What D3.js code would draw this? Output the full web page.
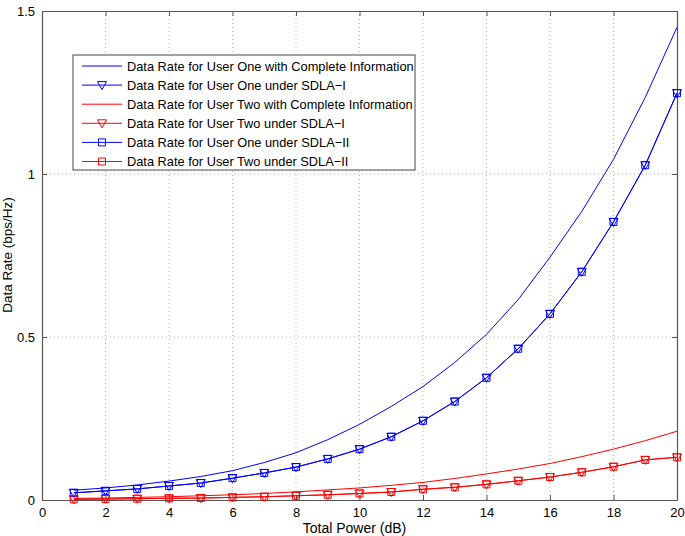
<!DOCTYPE html>
<html>
<head>
<meta charset="utf-8">
<script src="https://cdn.jsdelivr.net/npm/d3@7"></script>
<style>
  body { margin: 0; background: #fff; }
  text { font-family: "Liberation Sans", Arial, sans-serif; }
</style>
</head>
<body>
<div id="chart"></div>
<script>
// data
var power = [1,2,3,4,5,6,7,8,9,10,11,12,13,14,15,16,17,18,19,20];
var userOneComplete = [0.030,0.037,0.046,0.058,0.072,0.090,0.115,0.145,0.185,0.232,0.287,0.348,0.422,0.508,0.615,0.745,0.885,1.045,1.235,1.450];
var userOneSdla1 = [0.022,0.028,0.034,0.043,0.052,0.067,0.083,0.101,0.126,0.156,0.194,0.243,0.302,0.375,0.464,0.571,0.700,0.853,1.027,1.248];
var userTwoComplete = [0.005,0.006,0.008,0.010,0.013,0.016,0.020,0.025,0.031,0.037,0.045,0.054,0.066,0.080,0.095,0.112,0.133,0.156,0.182,0.211];
var userTwoSdla1 = [0.002,0.003,0.004,0.005,0.006,0.008,0.010,0.013,0.016,0.020,0.0245,0.033,0.039,0.048,0.059,0.0705,0.085,0.102,0.123,0.131];
var userOneSdla2 = [0.022,0.028,0.034,0.043,0.052,0.067,0.083,0.101,0.126,0.156,0.194,0.243,0.302,0.375,0.464,0.571,0.700,0.853,1.027,1.248];
var userTwoSdla2 = [0.002,0.003,0.004,0.005,0.006,0.008,0.010,0.013,0.016,0.020,0.0245,0.033,0.039,0.048,0.059,0.0705,0.085,0.102,0.123,0.131];
var xTicks = [0,2,4,6,8,10,12,14,16,18,20];
var yTicks = [0,0.5,1,1.5];

var series = [
  {name: "Data Rate for User One with Complete Information", values: userOneComplete, color: "#0000ff", marker: null},
  {name: "Data Rate for User One under SDLA\u2212I", values: userOneSdla1, color: "#0000ff", marker: "tri"},
  {name: "Data Rate for User Two with Complete Information", values: userTwoComplete, color: "#ff0000", marker: null},
  {name: "Data Rate for User Two under SDLA\u2212I", values: userTwoSdla1, color: "#ff0000", marker: "tri"},
  {name: "Data Rate for User One under SDLA\u2212II", values: userOneSdla2, color: "#0000ff", marker: "sq"},
  {name: "Data Rate for User Two under SDLA\u2212II", values: userTwoSdla2, color: "#ff0000", marker: "sq"}
];

var margin = {top: 11, right: 8, bottom: 36, left: 42};
var width = 685 - margin.left - margin.right;
var height = 536 - margin.top - margin.bottom;

var x = d3.scaleLinear().domain([0, 20]).range([0, width]);
var y = d3.scaleLinear().domain([0, 1.5]).range([height, 0]);

var svg = d3.select("#chart").append("svg")
    .attr("width", 685)
    .attr("height", 536)
  .append("g")
    .attr("transform", "translate(" + margin.left + "," + margin.top + ")");

// grid
svg.selectAll(".gx").data(xTicks.slice(1, -1)).enter().append("line")
  .attr("x1", function(d){ return x(d); }).attr("x2", function(d){ return x(d); })
  .attr("y1", 0).attr("y2", height)
  .attr("stroke", "#a0a0a0").attr("stroke-width", 0.8).attr("stroke-dasharray", "1,3");
svg.selectAll(".gy").data(yTicks.slice(1, -1)).enter().append("line")
  .attr("y1", function(d){ return y(d); }).attr("y2", function(d){ return y(d); })
  .attr("x1", 0).attr("x2", width)
  .attr("stroke", "#a0a0a0").attr("stroke-width", 0.8).attr("stroke-dasharray", "1,3");

// axes (inward ticks, box)
var xAxis = d3.axisBottom(x).tickValues(xTicks).tickSizeInner(-5).tickSizeOuter(0).tickPadding(7.5);
var yAxis = d3.axisLeft(y).tickValues(yTicks).tickSizeInner(-5).tickSizeOuter(0).tickPadding(7)
  .tickFormat(function(d){ return d3.format("")(d); });
var gx = svg.append("g").attr("transform", "translate(0," + height + ")").call(xAxis);
var gy = svg.append("g").call(yAxis);
var gxt = svg.append("g").call(d3.axisTop(x).tickValues(xTicks).tickSizeInner(-5).tickSizeOuter(0).tickFormat(""));
var gyr = svg.append("g").attr("transform", "translate(" + width + ",0)")
  .call(d3.axisRight(y).tickValues(yTicks).tickSizeInner(-5).tickSizeOuter(0).tickFormat(""));
[gx, gy, gxt, gyr].forEach(function(g){
  g.select(".domain").attr("stroke", "#555").attr("stroke-width", 1.2);
  g.selectAll(".tick line").attr("stroke", "#555");
  g.selectAll(".tick text").attr("fill", "#000").style("font-size", "13px")
    .style("font-family", "'Liberation Sans', Arial, sans-serif");
});

// lines
var line = d3.line()
  .x(function(d, i){ return x(power[i]); })
  .y(function(d){ return y(d); });

function markerPath(type) {
  if (type == "tri") return "M-4.5,-3.5L4.5,-3.5L0,4.5Z";
  return "M-3.5,-3.5L3.5,-3.5L3.5,3.5L-3.5,3.5Z";
}

series.forEach(function(s){
  svg.append("path")
    .datum(s.values)
    .attr("fill", "none")
    .attr("stroke", s.color)
    .attr("stroke-width", 1)
    .attr("d", line);
  if (s.marker) {
    svg.selectAll(null)
      .data(s.values)
      .enter()
      .append("path")
      .attr("d", markerPath(s.marker))
      .attr("transform", function(d, i){ return "translate(" + x(power[i]) + "," + y(d) + ")"; })
      .attr("fill", "none")
      .attr("stroke", s.color)
      .attr("stroke-width", 1);
  }
});

// labels
svg.append("text")
  .text("Total Power (dB)")
  .attr("x", width / 2 - 5)
  .attr("y", height + 32.5)
  .attr("text-anchor", "middle")
  .style("font-size", "14px");
svg.append("text")
  .text("Data Rate (bps/Hz)")
  .attr("transform", "rotate(-90)")
  .attr("x", -(255 - margin.top))
  .attr("y", -30)
  .attr("text-anchor", "middle")
  .style("font-size", "13.5px");

// legend
var legend = svg.append("g").attr("transform", "translate(" + (73 - margin.left) + "," + (55 - margin.top) + ")");
legend.append("rect")
  .attr("width", 342).attr("height", 115)
  .attr("fill", "#fff").attr("stroke", "#444").attr("stroke-width", 1);
series.forEach(function(s, i){
  var ly = 11 + i * 19.1;
  legend.append("line")
    .attr("x1", 9).attr("x2", 49).attr("y1", ly).attr("y2", ly)
    .attr("stroke", s.color).attr("stroke-width", 1);
  if (s.marker) {
    legend.append("path")
      .attr("d", markerPath(s.marker))
      .attr("transform", "translate(29," + ly + ")")
      .attr("fill", "none").attr("stroke", s.color);
  }
  legend.append("text")
    .text(s.name)
    .attr("x", 54)
    .attr("y", ly + 4.5)
    .style("font-size", "12.8px");
});
</script>
</body>
</html>
